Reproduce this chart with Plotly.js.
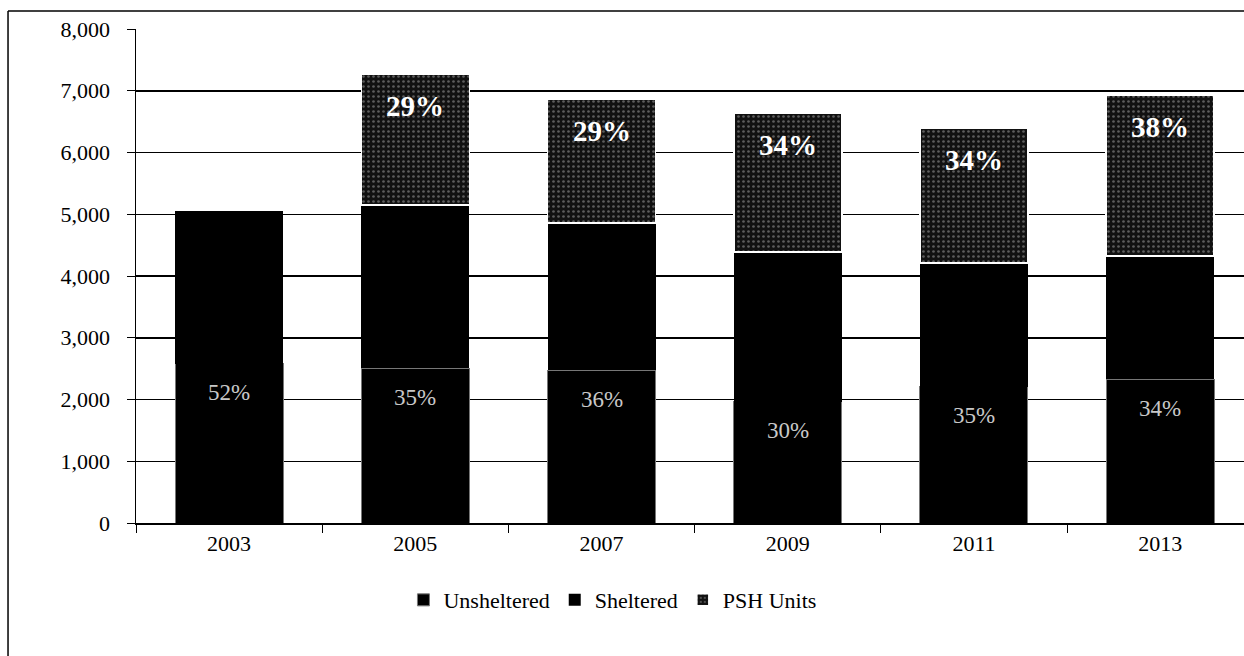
<!DOCTYPE html>
<html><head><meta charset="utf-8">
<script src="https://cdn.plot.ly/plotly-3.0.1.min.js"></script>
<style>html,body{margin:0;padding:0;background:#fff}#chart{width:1244px;height:656px}</style>
</head><body><div id="chart"></div>
<script>
const years = ['2003','2005','2007','2009','2011','2013'];
const unsheltered = [2580, 2510, 2470, 1960, 2210, 2330];
const sheltered = [2490, 2640, 2390, 2430, 2000, 1990];
const psh = [0, 2120, 2010, 2250, 2190, 2610];
const unshelteredLabels = ['52%','35%','36%','30%','35%','34%'];
const pshLabels = ['','29%','29%','34%','34%','38%'];

const serif = 'Liberation Serif';

const traces = [
  {type:'bar', name:'Unsheltered', x:years, y:unsheltered, width:0.58,
   marker:{color:'#000', line:{color:'#777', width:1}}},
  {type:'bar', name:'Sheltered', x:years, y:sheltered, width:0.58,
   marker:{color:'#000', line:{color:'#000', width:0}}},
  {type:'bar', name:'PSH Units', x:years, y:psh, width:0.58,
   marker:{color:'#000', line:{color:'#fff', width:1.5},
     pattern:{shape:'.', bgcolor:'#111', fgcolor:'#aaa', size:5, solidity:0.22, fillmode:'overlay'}}}
];

const annotations = [];
years.forEach((yr, i) => {
  annotations.push({x:i, y:unsheltered[i], xref:'x', yref:'y', text:unshelteredLabels[i],
    showarrow:false, yshift:-29, font:{family:serif, size:23, color:'#c8c8c8'}});
  if (pshLabels[i]) {
    const top = unsheltered[i] + sheltered[i] + psh[i];
    annotations.push({x:i, y:top, xref:'x', yref:'y', text:'<b>'+pshLabels[i]+'</b>',
      showarrow:false, yshift:-32, font:{family:serif, size:29, color:'#fff'}});
  }
});

const layout = {
  width:1244, height:656,
  margin:{l:136, r:0, t:29, b:133},
  paper_bgcolor:'#fff', plot_bgcolor:'#fff',
  barmode:'stack',
  font:{family:serif, color:'#000', size:20},
  xaxis:{type:'category', range:[-0.5,5.45], showline:true, linecolor:'#000', linewidth:1.5,
    ticks:'outside', tickson:'boundaries', ticklen:8, tickcolor:'#000',
    tickfont:{family:serif, size:22, color:'#000'}, showgrid:false, zeroline:false},
  yaxis:{range:[0,8000], dtick:1000, tickformat:',d', showline:true, linecolor:'#000', linewidth:1.5,
    ticks:'outside', ticklen:8, tickcolor:'#000', gridcolor:'#000', gridwidth:1.5,
    ticklabelstandoff:12,
    tickfont:{family:serif, size:22, color:'#000'}, zeroline:false},
  showlegend:true,
  legend:{orientation:'h', x:0.43, xanchor:'center', y:-0.156, yanchor:'middle',
    font:{family:serif, size:22, color:'#000'}, traceorder:'normal', itemwidth:30},
  annotations:annotations,
  shapes:[
    {type:'line', xref:'paper', yref:'paper', x0:-0.1155, x1:-0.1155, y0:1.0364, y1:-0.3, line:{color:'#000', width:1.5}},
    {type:'line', xref:'paper', yref:'paper', x0:-0.1155, x1:1, y0:1.0364, y1:1.0364, line:{color:'#000', width:1.5}}
  ]
};

Plotly.newPlot('chart', traces, layout, {displayModeBar:false, staticPlot:true});
</script></body></html>
